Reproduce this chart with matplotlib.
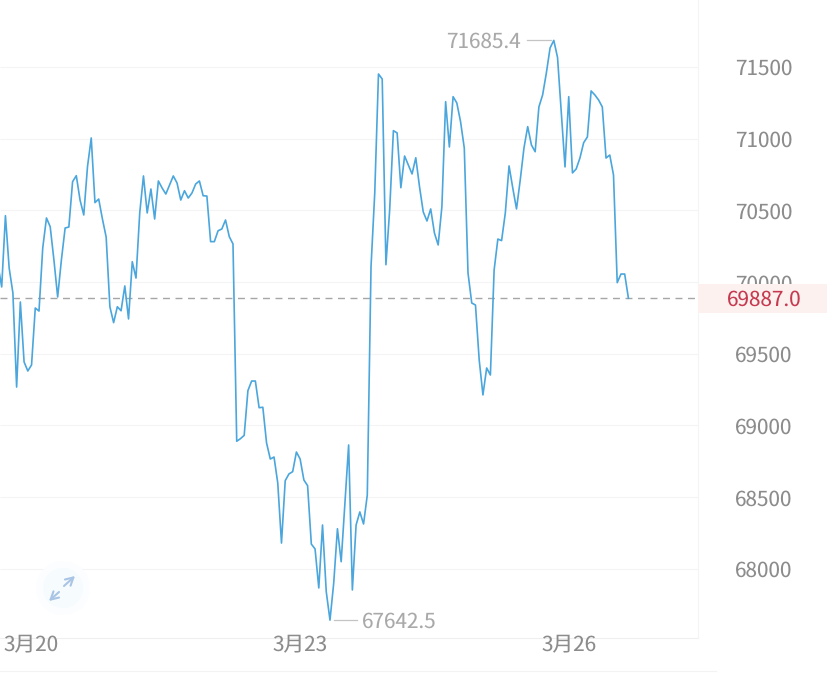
import matplotlib
matplotlib.use("Agg")
import matplotlib.pyplot as plt
from matplotlib.patches import Circle
from matplotlib.transforms import Affine2D

plt.rcParams['font.family'] = ['Noto Sans CJK SC', 'DejaVu Sans']
plt.rcParams['text.hinting'] = 'no_hinting'
plt.rcParams['text.hinting_factor'] = 1

# hourly price
prices = [70119, 69966, 70463, 70098, 69924, 69268, 69861, 69443, 69380, 69422,
          69819, 69798, 70238, 70447, 70386, 70154, 69896, 70154, 70377, 70384,
          70700, 70742, 70572, 70468, 70805, 71005, 70554, 70579, 70440, 70314,
          69828, 69717, 69828, 69800, 69973, 69743, 70142, 70028, 70482, 70740,
          70482, 70649, 70440, 70705, 70656, 70614, 70677, 70740, 70691, 70572,
          70637, 70586, 70621, 70684, 70705, 70602, 70600, 70282, 70282, 70358,
          70370, 70433, 70317, 70266, 68890, 68908, 68931, 69243, 69310, 69310,
          69124, 69127, 68878, 68766, 68780, 68599, 68180, 68615, 68662, 68678,
          68815, 68766, 68620, 68580, 68173, 68139, 67867, 68306, 67841, 67642.5,
          67901, 68280, 68050, 68459, 68864, 67853, 68306, 68397, 68313, 68515,
          70107, 70621, 71451, 71416, 70121, 70503, 71056, 71040, 70658, 70879,
          70817, 70754, 70867, 70665, 70489, 70426, 70510, 70342, 70259, 70526,
          71258, 70942, 71293, 71249, 71119, 70935, 70063, 69854, 69840, 69457,
          69213, 69401, 69352, 70084, 70300, 70289, 70482, 70810, 70656, 70510,
          70712, 70935, 71084, 70956, 70909, 71221, 71305, 71458, 71633, 71685.4,
          71566, 71179, 70803, 71293, 70761, 70789, 70865, 70972, 71012, 71333,
          71305, 71270, 71221, 70865, 70886, 70747, 69996, 70056, 70056, 69887]
hours = list(range(-1, len(prices) - 1))

y_ticks = [68000, 68500, 69000, 69500, 70000, 70500, 71000, 71500]
x_ticks = [8, 80, 152]
x_labels = ['3月20', '3月23', '3月26']
last_price = 69887.0
high_price = 71685.4
low_price = 67642.5

GRAY = '#8c8c8c'
SOFT = '#a9a9a9'
RULE = '#f4f4f4'
FS = 14.9

fig = plt.figure(figsize=(8.28, 6.76), dpi=100)
ax = fig.add_axes([0, 0, 1, 1])
ax.set_xlim(-0.456, 221.5)
ax.set_ylim(67253, 71967)
for s in ax.spines.values():
    s.set_visible(False)

# pixel coordinates for the decoration, origin top left
px = Affine2D().scale(1 / 828, -1 / 676).translate(0, 1) + ax.transAxes
right = 698 / 828

ax.set_yticks(y_ticks)
ax.yaxis.tick_right()
ax.tick_params(axis='y', length=0, pad=-93 * 0.72, labelsize=FS, labelcolor=GRAY)
for lab in ax.get_yticklabels():
    lab.set_ha('left')
ax.set_xticks(x_ticks, x_labels)
ax.tick_params(axis='x', length=0, pad=-41 * 0.72, labelsize=FS, labelcolor=GRAY)

ax.hlines(y_ticks, -0.456, 186.7, color=RULE, lw=0.8, zorder=1)
ax.plot([0, 698], [638, 638], color='#efefef', lw=0.8, transform=px, zorder=1)
ax.plot([0, 716], [671, 671], color='#f3f3f3', lw=0.8, transform=px, zorder=1)
ax.plot([698, 698], [0, 638], color='#f4f4f4', lw=0.8, transform=px, zorder=1)

# last price band
ax.axhspan(last_price - 100, last_price + 100, xmin=right, xmax=1, color='#fdf1f0', lw=0, zorder=3)
ax.axhline(last_price, xmax=right, color='#a6a6a6', lw=1.0, dashes=(5, 4), zorder=2)
ax.text(764, 300, '%.1f' % last_price, transform=px,
        color='#c63a50', fontsize=FS, ha='center', va='center', zorder=4)

ax.plot(hours, prices, color='#4aa6dc', lw=1.2, zorder=2.2)

# high / low callouts
ax.plot([527, 551], [40, 40], color='#c4c4c4', lw=0.9, transform=px)
ax.text(521, 42, '%.1f' % high_price, transform=px, color=SOFT, fontsize=FS, ha='right', va='center')
ax.plot([334, 357], [620, 620], color='#c4c4c4', lw=0.9, transform=px)
ax.text(362, 622, '%.1f' % low_price, transform=px, color=SOFT, fontsize=FS, ha='left', va='center')

# expand button
for r, a in [(27, '#fbfdff'), (20, '#f6fbfe')]:
    ax.add_patch(Circle((63, 588), r, transform=px, color=a, lw=0, zorder=1.5))
arrow = dict(arrowstyle='->,head_width=0.3,head_length=0.55', color='#a9c4e4', lw=1.5,
             shrinkA=0, shrinkB=0)
ax.annotate('', xy=(75, 576), xytext=(64, 586), xycoords=px, textcoords=px, arrowprops=arrow)
ax.annotate('', xy=(49, 601), xytext=(59, 592), xycoords=px, textcoords=px, arrowprops=arrow)

fig.savefig('out.png', dpi=100)
